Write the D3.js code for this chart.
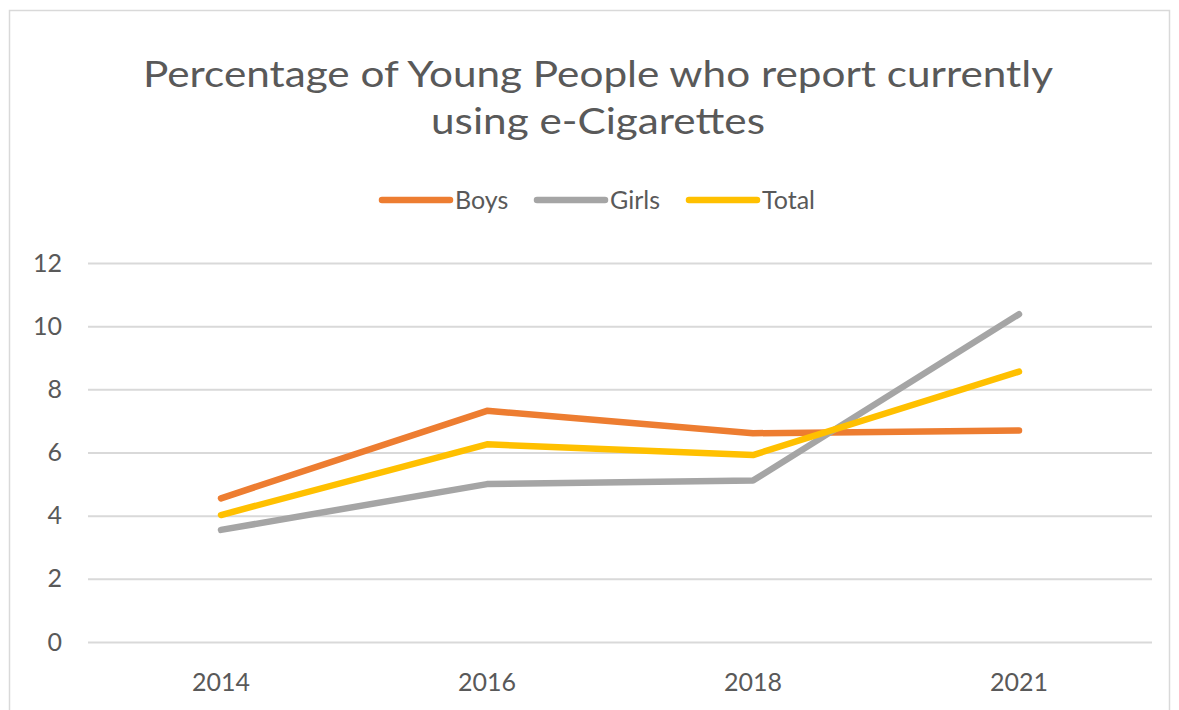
<!DOCTYPE html>
<html>
<head>
<meta charset="utf-8">
<script src="https://cdn.jsdelivr.net/npm/d3@7"></script>
<style>
  html, body { margin: 0; padding: 0; background: #fff; }
  svg { display: block; font-family: Lato, "Open Sans", sans-serif; }
</style>
</head>
<body>
<svg id="chart" width="1179" height="710"></svg>
<script>
// Survey years and reported current e-cigarette use (%)
const years = ["2014", "2016", "2018", "2021"];
const boys  = [4.55, 7.32, 6.61, 6.70];
const girls = [3.55, 5.00, 5.11, 10.38];
const total = [4.02, 6.26, 5.92, 8.56];
const yTicks = [0, 2, 4, 6, 8, 10, 12];
const seriesNames = ["Boys", "Girls", "Total"];
const seriesColors = ["#ED7D31", "#A5A5A5", "#FFC000"];
const titleLines = ["Percentage of Young People who report currently", "using e-Cigarettes"];

const series = [boys, girls, total].map((vals, i) => ({
  name: seriesNames[i], color: seriesColors[i],
  points: years.map((y, j) => ({ year: y, value: vals[j] }))
}));

const svg = d3.select("#chart");
const textColor = "#595959";

// chart frame
svg.append("rect")
  .attr("x", 9.5).attr("y", 10.5).attr("width", 1160).attr("height", 720)
  .attr("fill", "#fff").attr("stroke", "#d9d9d9").attr("stroke-width", 1.5);

const plot = { left: 88, right: 1152, top: 263, bottom: 642 };

const x = d3.scaleBand().domain(years).range([plot.left, plot.right]);
const y = d3.scaleLinear().domain([0, 12]).range([plot.bottom, plot.top]);

// horizontal gridlines
const yAxis = d3.axisLeft(y).tickValues(yTicks).tickSize(-(plot.right - plot.left)).tickPadding(26);
const gy = svg.append("g").attr("transform", `translate(${plot.left},0)`).call(yAxis);
gy.select(".domain").remove();
gy.selectAll(".tick line").attr("stroke", "#d9d9d9").attr("stroke-width", 2);
gy.selectAll(".tick text")
  .attr("fill", textColor).attr("font-size", 25).attr("font-family", "Lato, sans-serif");

// category axis labels
const xAxis = d3.axisBottom(x).tickSize(0).tickPadding(31);
const gx = svg.append("g").attr("transform", `translate(0,${plot.bottom})`).call(xAxis);
gx.select(".domain").remove();
gx.selectAll(".tick text")
  .attr("fill", textColor).attr("font-size", 25).attr("font-family", "Lato, sans-serif");

// series lines
const line = d3.line()
  .x(d => x(d.year) + x.bandwidth() / 2)
  .y(d => y(d.value));

svg.append("g").selectAll("path")
  .data(series)
  .join("path")
  .attr("d", d => line(d.points))
  .attr("fill", "none")
  .attr("stroke", d => d.color)
  .attr("stroke-width", 6.5)
  .attr("stroke-linecap", "round")
  .attr("stroke-linejoin", "round");

// title
const title = svg.append("g");
const tl = title.selectAll("text")
  .data(titleLines)
  .join("text")
  .attr("x", 598)
  .attr("y", (d, i) => 87 + i * 47)
  .attr("text-anchor", "middle")
  .attr("fill", textColor)
  .attr("font-size", 37)
  .text(d => d);
const first = tl.nodes()[0].getComputedTextLength();
const k = 910 / first;
tl.each(function () {
  const w = this.getComputedTextLength();
  d3.select(this).attr("textLength", w * k).attr("lengthAdjust", "spacingAndGlyphs");
});

// legend
const legendX = [382, 537, 689];
const lg = svg.append("g").selectAll("g")
  .data(series)
  .join("g")
  .attr("transform", (d, i) => `translate(${legendX[i]},200)`);
lg.append("line")
  .attr("x1", 0).attr("x2", 68).attr("y1", 0).attr("y2", 0)
  .attr("stroke", d => d.color).attr("stroke-width", 6.5).attr("stroke-linecap", "round");
lg.append("text")
  .attr("x", 73).attr("y", 9)
  .attr("fill", textColor).attr("font-size", 25)
  .text(d => d.name);
</script>
</body>
</html>
